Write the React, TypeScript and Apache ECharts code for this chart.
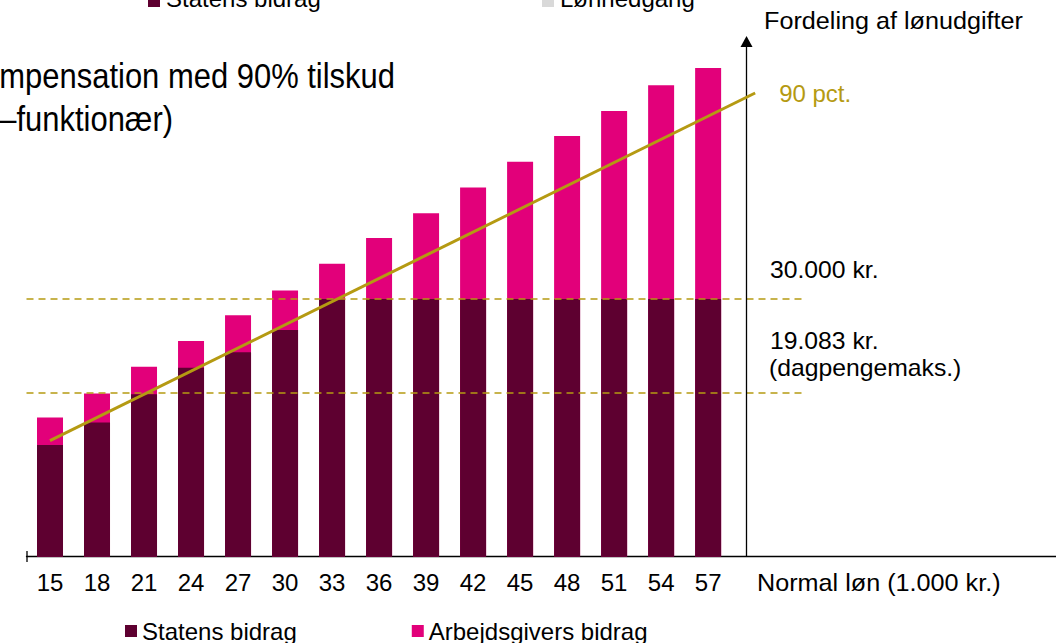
import React, { useEffect, useRef } from 'react';
import * as echarts from 'echarts';

// ---- data ----
const incomes = [15, 18, 21, 24, 27, 30, 33, 36, 39, 42, 45, 48, 51, 54, 57];
const statensBidrag = [13.0, 15.6, 18.9, 22.0, 23.8, 26.4, 30, 30, 30, 30, 30, 30, 30, 30, 30];
const arbejdsgiversBidrag = [3.2, 3.4, 3.2, 3.1, 4.3, 4.6, 4.1, 7.1, 10.0, 13.0, 16.0, 19.0, 21.9, 24.9, 26.9];
const pctLineX = [15, 60];
const pctLineY = [13.5, 54];
const refLevels = [30, 19.083];
const refLineStartX = 13.5;
const refLineEndX = 63;
const arrowAxisX = 59.45;
const xMin = 13.5;
const xMax = 79.2;
const yMax = 60;

const FONT = '"Liberation Sans", Arial, Helvetica, sans-serif';
const DARK = '#5E0030';
const PINK = '#E2007A';
const GOLD = '#B59A12';

function txt(text: string, x: number, y: number, opts: any = {}) {
  const align = opts.align || 'left';
  return {
    type: 'text',
    x,
    y,
    scaleX: opts.scaleX ?? 1,
    silent: true,
    style: {
      text,
      fill: opts.fill || '#000',
      fontSize: opts.fontSize || 24,
      fontFamily: opts.fontFamily || FONT,
      align,
      textAlign: align,
      verticalAlign: 'middle',
      textVerticalAlign: 'middle',
    },
  };
}

export default function App() {
  const ref = useRef<HTMLDivElement>(null);

  useEffect(() => {
    if (!ref.current) return;
    const chart = echarts.init(ref.current, undefined, { renderer: 'svg' });

    // top of each stacked bar (employer part sits on top of the state part)
    const stackTop = incomes.map((_, i) => statensBidrag[i] + arbejdsgiversBidrag[i]);

    const option: any = {
      animation: false,
      backgroundColor: '#fff',
      textStyle: { fontFamily: FONT },
      grid: { left: 26.5, top: 41.5, right: 0, height: 515, containLabel: false },
      xAxis: {
        type: 'value',
        min: xMin,
        max: xMax,
        interval: 1.5,
        axisLine: { show: true, onZero: false, lineStyle: { color: '#000', width: 1.3 } },
        axisTick: { show: false },
        splitLine: { show: false },
        axisLabel: {
          formatter: (v: number) => (incomes.some((c) => Math.abs(c - v) < 1e-6) ? String(v) : ''),
          fontSize: 24,
          color: '#000',
          margin: 14,
          fontFamily: FONT,
          showMaxLabel: false,
        },
      },
      yAxis: { type: 'value', min: 0, max: yMax, show: false },
      legend: {
        data: ['Statens bidrag', 'Arbejdsgivers bidrag'],
        left: 125,
        top: 619,
        padding: 0,
        itemWidth: 12,
        itemHeight: 12,
        itemGap: 115,
        icon: 'rect',
        selectedMode: false,
        textStyle: { fontSize: 24, color: '#000', fontFamily: FONT },
      },
      series: [
        {
          name: 'Arbejdsgivers bidrag',
          type: 'bar',
          barWidth: 26,
          barGap: '-100%',
          z: 2,
          itemStyle: { color: PINK },
          data: incomes.map((x, i) => [x, stackTop[i]]),
        },
        {
          name: 'Statens bidrag',
          type: 'bar',
          barWidth: 26,
          barGap: '-100%',
          z: 3,
          itemStyle: { color: DARK },
          data: incomes.map((x, i) => [x, statensBidrag[i]]),
        },
        {
          name: '90 pct.',
          type: 'line',
          symbol: 'none',
          z: 5,
          lineStyle: { color: GOLD, width: 3 },
          data: pctLineX.map((x, i) => [x, pctLineY[i]]),
          endLabel: {
            show: true,
            formatter: '90 pct.',
            color: GOLD,
            fontSize: 24,
            fontFamily: FONT,
            distance: 24,
          },
          markLine: {
            silent: true,
            symbol: ['none', 'none'],
            label: { show: false },
            lineStyle: { color: GOLD, width: 1.5, type: [7, 5] },
            data: [
              ...refLevels.map((lv) => [
                { coord: [refLineStartX, lv] },
                { coord: [refLineEndX, lv] },
              ]),
              [
                { coord: [arrowAxisX, 0], symbol: 'none', lineStyle: { color: '#000', width: 1.3, type: 'solid' } },
                { coord: [arrowAxisX, yMax], symbol: 'triangle', symbolSize: [12, 11], lineStyle: { color: '#000', width: 1.3, type: 'solid' } },
              ],
            ],
          },
        },
      ],
      graphic: [
        // left end tick of the horizontal axis
        { type: 'line', silent: true, shape: { x1: 27, y1: 551, x2: 27, y2: 562 }, style: { stroke: '#000', lineWidth: 1.3 } },
        // cut-off legend at the top
        { type: 'rect', silent: true, shape: { x: 148, y: -5, width: 12, height: 12 }, style: { fill: DARK } },
        txt('Statens bidrag', 166, -2),
        { type: 'rect', silent: true, shape: { x: 542, y: -5, width: 12, height: 12 }, style: { fill: '#D9D9D9' } },
        txt('Lønnedgang', 560, -2),
        // cut-off title
        txt('mpensation med 90% tilskud', 395, 75.5, { align: 'right', fontSize: 36, scaleX: 0.86 }),
        txt('–funktionær)', 173, 119, { align: 'right', fontSize: 36, scaleX: 0.86 }),
        // annotations
        txt('Fordeling af lønudgifter', 764, 21, { scaleX: 1.05 }),
        txt('30.000 kr.', 770, 270, { scaleX: 1.03 }),
        txt('19.083 kr.', 770, 341, { scaleX: 1.03 }),
        txt('(dagpengemaks.)', 769, 368, { scaleX: 1.03 }),
        txt('Normal løn (1.000 kr.)', 757, 583, { scaleX: 1.05 }),
      ],
    };

    chart.setOption(option);
    return () => chart.dispose();
  }, []);

  return (
    <div
      ref={ref}
      style={{ position: 'fixed', left: 0, top: 0, width: 1056, height: 643, background: '#fff' }}
    />
  );
}
